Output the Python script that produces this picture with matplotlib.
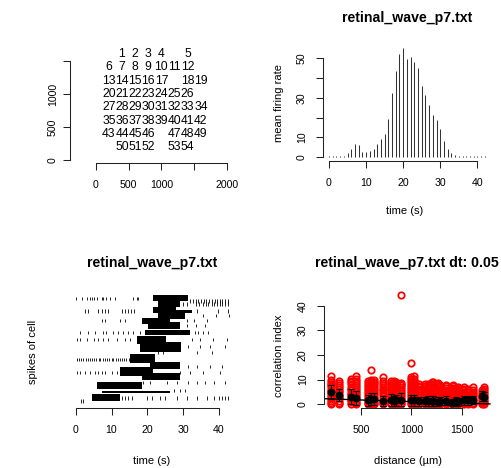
import matplotlib
matplotlib.use('Agg')
import matplotlib.pyplot as plt

plt.rcParams['font.family'] = ['Liberation Sans', 'DejaVu Sans']

# ---------------- data ----------------
# panel 1: electrode layout
elec_ids = list(range(1, 55))
elec_x = [400, 600, 800, 1000, 1400,
          200, 400, 600, 800, 1000, 1200, 1400,
          200, 400, 600, 800, 1000, 1400, 1600,
          200, 400, 600, 800, 1000, 1200, 1400,
          200, 400, 600, 800, 1000, 1200, 1400, 1600,
          200, 400, 600, 800, 1000, 1200, 1400, 1600,
          200, 400, 600, 800, 1200, 1400, 1600,
          400, 600, 800, 1200, 1400]
elec_y = [1600] * 5 + [1400] * 7 + [1200] * 7 + [1000] * 7 + [800] * 8 + [600] * 8 + [400] * 7 + [200] * 5

# panel 2: mean firing rate per second
rate_t = list(range(0, 43))
rate_v = [0.3, 0.3, 0.3, 0.3, 0.5, 2.2, 4.2, 6.4, 5.9, 2.5,
          2.5, 3.0, 4.2, 6.4, 9.3, 11.8, 19.3, 32.6, 43.8, 52.2,
          55.1, 49.5, 50.8, 48.1, 44.9, 36.0, 31.3, 26.2, 21.5, 18.9,
          14.0, 8.3, 4.1, 1.9, 0.8, 0.3, 0.3, 0.3, 0.3, 0.3,
          0.3, 0.3, 0.3]

# panel 3: raster (bursts as dense blocks + isolated spikes)
burst_t0 = [21.7, 23.1, 21.7, 28.0, 23.1, 18.4, 20.3, 19.4, 17.0, 18.0, 15.2, 20.8, 12.4, 18.4, 5.9, 7.3, 4.5]
burst_t1 = [31.5, 29.1, 28.0, 32.4, 30.5, 26.3, 29.1, 31.9, 25.3, 29.5, 22.2, 29.1, 21.7, 29.1, 18.4, 26.3, 12.4]
burst_c0 = [52.0, 49.0, 46.0, 46.0, 43.0, 40.5, 38.0, 34.7, 30.3, 26.5, 20.5, 17.5, 14.0, 12.0, 7.6, 5.6, 1.7]
burst_c1 = [55.0, 52.5, 49.0, 47.4, 46.5, 43.3, 41.5, 37.5, 34.5, 31.3, 25.2, 21.2, 18.7, 15.5, 11.1, 6.8, 5.0]
spike_cells = [53.3, 52.0, 50.5, 47.0, 44.5, 42.0, 39.5, 36.0, 32.5, 29.0, 26.0, 22.5, 19.0, 16.0, 11.0, 7.0, 3.0, 1.5]
spike_times = [
    [0.2, 1.7, 3.1, 4.0, 4.5, 5.1, 5.9, 7.3, 7.7, 8.6, 9.6, 11.0, 16.1, 17.0, 17.5],
    [32.0, 32.8, 33.5, 34.2, 35.0, 35.8, 36.5, 37.2, 38.0, 38.8, 39.5, 40.3, 41.0, 41.8, 42.5],
    [30.0, 31.0, 33.5, 34.5, 35.5, 36.3, 37.0, 38.0, 38.6, 39.4, 40.2, 41.0, 41.7, 42.5],
    [2.6, 3.5, 6.3, 7.3, 8.2, 9.1, 12.8, 13.7, 14.6, 15.5, 16.4, 33.8, 39.8, 42.6],
    [35.6, 39.3, 42.8],
    [7.3, 8.2, 12.4, 13.8, 31.2, 33.0, 36.8],
    [31.0, 33.5, 36.0],
    [1.2, 3.5, 5.4, 7.7, 8.6, 10.5, 11.9, 13.3, 14.7, 16.1, 18.0, 33.3, 34.3, 35.6, 37.0],
    [0.3, 1.2, 3.1, 5.0, 6.3, 7.7, 9.1, 11.5, 13.8, 15.2, 32.4, 34.7, 38.4, 42.2],
    [31.5, 34.8, 37.6, 41.8],
    [23.0, 24.5, 34.0, 38.0],
    [0.3, 0.9, 1.6, 2.1, 2.8, 3.3, 4.0, 4.5, 5.2, 5.7, 6.4, 6.9, 7.6, 8.1, 8.8, 9.3, 10.0, 10.5, 11.2, 11.7, 12.4, 12.9, 13.6, 14.1, 14.8],
    [31.5, 34.0, 37.5, 41.0],
    [0.3, 1.2, 2.6, 4.0, 5.4, 6.3, 7.3, 8.2, 10.0, 11.5, 29.1, 31.9, 35.6, 40.3],
    [18.9, 20.8, 25.4, 28.2, 31.5, 33.8, 36.1, 38.5, 41.7],
    [27.5, 29.0, 30.5],
    [12.8, 13.7, 14.7, 15.6, 19.8, 21.2, 23.5, 24.9, 28.2, 31.0, 33.8, 36.6, 38.5, 39.9, 40.8, 41.7, 42.6],
    [1.6, 2.1],
]

# panel 4: correlation index vs distance
dist_cols = [200, 283, 400, 447, 566, 600, 632, 721, 800, 825, 849, 894, 1000, 1020, 1077, 1131,
             1166, 1200, 1217, 1265, 1281, 1342, 1400, 1414, 1442, 1456, 1523, 1562, 1612, 1697, 1720]
corr_by_dist = [
    [0.0, 0.6, 1.3, 2.1, 2.8, 3.6, 4.5, 5.2, 6.0, 6.9, 7.7, 8.4, 9.2, 9.9, 11.3],
    [0.0, 0.7, 1.5, 2.4, 3.1, 3.9, 4.8, 5.5, 6.3, 7.1, 8.0, 8.7, 9.3],
    [0.0, 0.8, 1.6, 2.3, 3.2, 4.0, 4.7, 5.6, 6.4, 7.2, 8.1, 8.9, 9.6, 10.4],
    [0.0, 0.7, 1.4, 2.2, 3.0, 3.9, 4.6, 5.4, 6.2, 7.0, 7.9, 8.6, 9.5, 10.2, 11.4],
    [0.0, 0.7, 1.5, 2.3, 3.1, 3.8, 4.6, 5.5, 6.3, 7.0, 7.8, 8.6, 9.4],
    [0.0, 0.8, 1.5, 2.4, 3.2, 4.0, 4.9, 5.7, 6.5, 7.3, 8.1, 8.9, 9.7, 14.0],
    [0.0, 0.6, 1.4, 2.2, 3.0, 3.7, 4.5, 5.3, 6.1, 7.0, 7.7, 8.5, 9.2, 9.9],
    [0.0, 0.7, 1.5, 2.3, 3.2, 4.0, 4.8, 5.6, 6.4, 7.1, 7.9, 8.7, 9.5, 10.9],
    [0.0, 0.7, 1.6, 2.4, 3.1, 3.9, 4.7, 5.6, 6.3, 7.2, 8.0, 8.8, 9.6],
    [0.0, 0.8, 1.6, 2.3, 3.1, 3.9, 4.8, 5.6, 6.4, 7.1, 7.8, 8.6, 9.3],
    [0.0, 0.7, 1.4, 2.2, 3.0, 3.8, 4.6, 5.4, 6.2, 7.0, 7.8, 8.5, 9.0],
    [0.0, 0.6, 1.4, 2.3, 3.1, 3.9, 4.6, 5.3, 6.2, 7.0, 7.7, 8.3, 8.8, 44.3],
    [0.0, 0.7, 1.5, 2.3, 3.0, 3.8, 4.7, 5.5, 6.3, 7.1, 7.9, 8.7, 9.5, 10.3, 11.0, 16.6],
    [0.0, 0.8, 1.6, 2.4, 3.2, 4.0, 4.8, 5.5, 6.3, 7.1, 7.9, 8.6, 9.4, 10.2, 11.5],
    [0.0, 0.7, 1.5, 2.3, 3.0, 3.8, 4.6, 5.4, 6.1, 6.9, 7.6, 8.3],
    [0.0, 0.6, 1.4, 2.2, 3.0, 3.8, 4.5, 5.3, 6.0, 6.8, 7.5, 8.1],
    [0.0, 0.7, 1.5, 2.2, 3.0, 3.7, 4.5, 5.2, 6.0, 6.8, 7.5, 8.2],
    [0.0, 0.8, 1.5, 2.3, 3.1, 3.9, 4.7, 5.4, 6.2, 7.0, 7.7, 8.4, 9.0],
    [0.0, 0.6, 1.4, 2.1, 2.9, 3.7, 4.4, 5.2, 6.0, 6.8, 7.5, 8.3, 8.9],
    [0.0, 0.7, 1.5, 2.2, 3.0, 3.8, 4.5, 5.3, 6.0, 6.8, 7.5, 8.2, 8.7],
    [0.0, 0.8, 1.5, 2.3, 3.0, 3.7, 4.4, 5.2, 5.9, 6.6, 7.3, 8.0],
    [0.0, 0.7, 1.4, 2.2, 2.9, 3.6, 4.4, 5.1, 5.9, 6.6, 7.3, 7.8],
    [0.0, 0.7, 1.4, 2.2, 2.9, 3.7, 4.4, 5.1, 5.8, 6.3],
    [0.0, 0.8, 1.5, 2.2, 3.0, 3.7, 4.5, 5.2, 5.9, 6.6, 7.3, 8.0],
    [0.0, 0.7, 1.4, 2.1, 2.9, 3.6, 4.3, 5.0, 5.7, 6.5],
    [0.0, 0.7, 1.5, 2.2, 2.9, 3.6, 4.4, 5.1, 5.8, 6.5, 7.2],
    [0.0, 0.6, 1.3, 2.1, 2.8, 3.5, 4.2, 5.0, 5.7, 6.4, 7.1],
    [0.0, 0.7, 1.4, 2.1, 2.8, 3.5, 4.2, 4.9, 5.6, 6.4],
    [0.0, 0.7, 1.5, 2.2, 2.9, 3.6, 4.3, 5.0, 5.8, 7.0],
    [0.0, 0.7, 1.4, 2.1, 2.8, 3.5, 4.2, 4.9, 5.6],
    [0.0, 0.8, 1.5, 2.3, 3.0, 3.8, 4.5, 5.3, 6.2, 7.0],
]
mean_ci = [5.0, 3.8, 3.1, 2.6, 1.7, 2.1, 2.0, 1.4, 1.8, 1.5, 1.7, 1.9, 1.6, 1.6, 1.3, 1.2,
           1.3, 1.5, 1.4, 1.1, 1.3, 1.5, 0.6, 0.9, 1.3, 1.0, 1.6, 1.7, 1.8, 3.3, 3.0]
sd_ci = [3.0, 2.5, 3.0, 2.7, 2.2, 2.5, 2.4, 2.0, 2.4, 2.0, 2.2, 2.5, 2.3, 2.2, 1.8, 1.9,
         2.0, 2.0, 1.9, 1.8, 1.7, 1.8, 1.2, 1.4, 1.6, 1.5, 1.8, 1.8, 1.7, 2.0, 1.8]
fit_d = [124, 500, 982, 1381, 1777]
fit_ci = [2.3, 1.75, 1.1, 0.7, 0.15]

# ---------------- figure ----------------
W, H = 502, 468
fig = plt.figure(figsize=(W / 100, H / 100), dpi=100)

LBL = 8.0
TCK = 7.6
TTL = 10.2


def px_axes(x0, x1, ytop, ybot):
    return fig.add_axes([x0 / W, 1 - ybot / H, (x1 - x0) / W, (ybot - ytop) / H])


def ftext(x, y, s, **kw):
    fig.text(x / W, 1 - y / H, s, ha='center', va='center', **kw)


def lims(p0, p1, a, b):
    return ((p0 - a) / b, (p1 - a) / b)


def r_axes(ax, xb=None, xt=None, xl=None, yb=None, yt=None, yl=None, xpad=7.3, ypad=6.5):
    for s in ['top', 'right']:
        ax.spines[s].set_visible(False)
    ax.patch.set_alpha(0)
    ax.tick_params(direction='out', length=5, width=0.75, color='#222222', labelsize=TCK)
    if xb is None:
        ax.spines['bottom'].set_visible(False)
        ax.set_xticks([])
    else:
        ax.spines['bottom'].set_bounds(*xb)
        ax.spines['bottom'].set_linewidth(0.75)
        ax.spines['bottom'].set_color('#222222')
        ax.set_xticks(xt)
        ax.set_xticklabels(xl)
        ax.tick_params(axis='x', pad=xpad)
    if yb is None:
        ax.spines['left'].set_visible(False)
        ax.set_yticks([])
    else:
        ax.spines['left'].set_bounds(*yb)
        ax.spines['left'].set_linewidth(0.75)
        ax.spines['left'].set_color('#222222')
        ax.set_yticks(yt)
        ax.set_yticklabels(yl, rotation=90, va='center')
        ax.tick_params(axis='y', pad=ypad)


# panel 1
ax1 = px_axes(70, 240, 45, 163.3)
ax1.set_xlim(lims(70, 240, 95.7, 0.0657))
ax1.set_ylim(((160.3 - 163.3) / 0.0663, (160.3 - 45) / 0.0663))
for i, x, y in zip(elec_ids, elec_x, elec_y):
    ax1.text(x, y, str(i), ha='center', va='center', fontsize=8.7)
r_axes(ax1, xb=(0, 2000), xt=[0, 500, 1000, 1500, 2000], xl=['0', '500', '1000', '', '2000'],
       yb=(0, 1500), yt=[0, 500, 1000, 1500], yl=['0', '500', '1000', ''], ypad=3.8)

# panel 2
ax2 = px_axes(323, 495, 40, 161.3)
ax2.set_xlim(lims(323, 495, 329, 3.71))
ax2.set_ylim(((157 - 161.3) / 1.973, (157 - 40) / 1.973))
ax2.vlines(rate_t, 0, rate_v, color='#333333', lw=0.75)
r_axes(ax2, xb=(0, 40), xt=[0, 10, 20, 30, 40], xl=['0', '10', '20', '30', '40'],
       yb=(0, 50), yt=[0, 10, 20, 30, 40, 50], yl=['0', '10', '', '30', '', '50'])
ftext(407.5, 17.7, 'retinal_wave_p7.txt', fontsize=TTL, fontweight='bold')
ftext(405, 210.7, 'time (s)', fontsize=LBL)
ftext(279.3, 103.3, 'mean firing rate', fontsize=LBL, rotation=90)

# panel 3
ax3 = px_axes(69.7, 235, 290, 408)
ax3.set_xlim(lims(69.7, 235, 75.7, 3.58))
ax3.set_ylim((1 + (402 - 408) / 1.98, 1 + (402 - 290) / 1.98))
for t0, t1, c0, c1 in zip(burst_t0, burst_t1, burst_c0, burst_c1):
    ax3.fill_between([t0, t1], c0, c1, color='black', lw=0)
for c, ts in zip(spike_cells, spike_times):
    ax3.vlines(ts, c - 0.8, c + 0.8, color='black', lw=0.6)
r_axes(ax3, xb=(0, 40), xt=[0, 10, 20, 30, 40], xl=['0', '10', '20', '30', '40'])
ftext(152, 263.3, 'retinal_wave_p7.txt', fontsize=TTL, fontweight='bold')
ftext(152, 460.7, 'time (s)', fontsize=LBL)
ftext(33.3, 352.3, 'spikes of cell', fontsize=LBL, rotation=90)

# panel 4
ax4 = px_axes(323.7, 495, 290, 408)
ax4.set_xlim((500 + (323.7 - 361) / 0.101, 500 + (495 - 361) / 0.101))
ax4.set_ylim(((404.3 - 408) / 2.465, (404.3 - 290) / 2.465))
for d, vals in zip(dist_cols, corr_by_dist):
    ax4.plot([d] * len(vals), vals, 'o', ms=4.6, mfc='none', mec='red', mew=1.3, clip_on=False)
ax4.errorbar(dist_cols, mean_ci, yerr=sd_ci, fmt='o', color='black', ms=4.6,
             elinewidth=0.8, capsize=2.5, capthick=0.8)
ax4.plot(fit_d, fit_ci, color='black', lw=1.0)
r_axes(ax4, xb=(500, 1500), xt=[500, 1000, 1500], xl=['500', '1000', '1500'],
       yb=(0, 40), yt=[0, 10, 20, 30, 40], yl=['0', '10', '20', '30', '40'])
ftext(407, 263.3, 'retinal_wave_p7.txt dt: 0.05', fontsize=TTL, fontweight='bold')
ftext(407.7, 460.7, 'distance (\u00b5m)', fontsize=LBL)
ftext(279.3, 355.7, 'correlation index', fontsize=LBL, rotation=90)

fig.savefig('out.png', dpi=100)
